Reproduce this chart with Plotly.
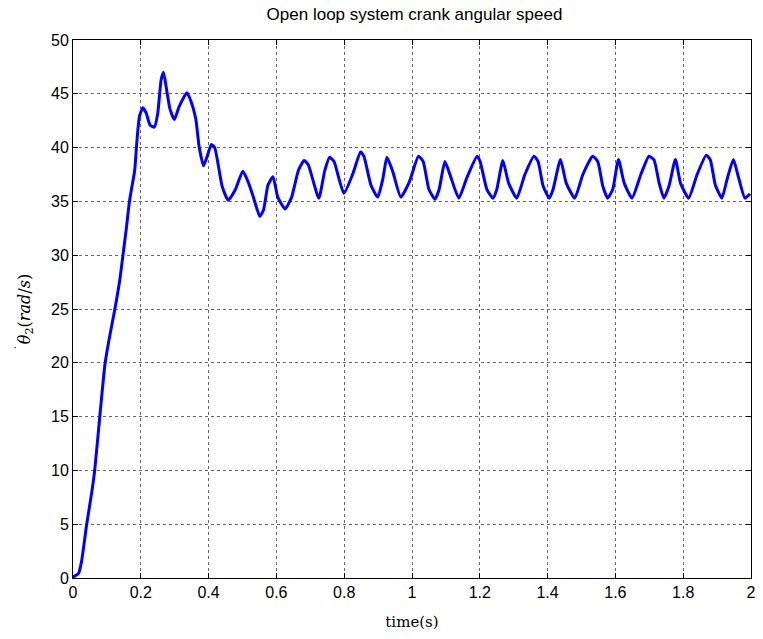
import plotly.graph_objects as go

time_s = [0.0, 0.001, 0.016, 0.025, 0.040, 0.055, 0.064, 0.079, 0.094, 0.106, 0.123, 0.138, 0.147,
          0.157, 0.167, 0.182, 0.188, 0.196, 0.206, 0.216, 0.227, 0.240, 0.250, 0.260, 0.267,
          0.276, 0.286, 0.299, 0.313, 0.336, 0.347, 0.362, 0.372, 0.385, 0.396, 0.408, 0.418,
          0.440, 0.458, 0.479, 0.501, 0.518, 0.533, 0.551, 0.562, 0.575, 0.590, 0.604, 0.626,
          0.645, 0.665, 0.682, 0.694, 0.725, 0.743, 0.757, 0.770, 0.799, 0.826, 0.848, 0.858,
          0.879, 0.899, 0.914, 0.926, 0.943, 0.967, 0.992, 1.019, 1.033, 1.050, 1.068, 1.080,
          1.097, 1.114, 1.138, 1.163, 1.192, 1.201, 1.221, 1.239, 1.250, 1.268, 1.285, 1.309,
          1.333, 1.360, 1.372, 1.387, 1.405, 1.416, 1.438, 1.455, 1.480, 1.504, 1.533, 1.548,
          1.563, 1.577, 1.592, 1.609, 1.626, 1.649, 1.675, 1.699, 1.714, 1.729, 1.743, 1.758,
          1.777, 1.792, 1.816, 1.841, 1.868, 1.880, 1.895, 1.914, 1.929, 1.948, 1.961, 1.982,
          1.997]
speed = [0.0, 0.1, 0.4, 1.5, 4.9, 7.9, 10.0, 15.0, 19.8, 22.1, 24.9, 27.7, 29.9,
         32.4, 35.1, 37.9, 40.4, 42.9, 43.7, 43.2, 42.1, 41.9, 43.2, 46.3, 47.0,
         45.4, 43.6, 42.6, 43.8, 45.1, 44.4, 42.7, 40.1, 38.3, 39.2, 40.3, 40.0,
         36.4, 35.1, 36.1, 37.8, 36.7, 35.3, 33.6, 34.2, 36.5, 37.3, 35.4, 34.3,
         35.4, 37.9, 38.8, 38.4, 35.3, 37.9, 39.1, 38.7, 35.75, 37.6, 39.6, 39.2,
         36.5, 35.4, 37.1, 39.1, 37.8, 35.4, 36.8, 39.2, 38.7, 36.1, 35.2, 36.1,
         38.7, 37.3, 35.3, 37.3, 39.2, 38.7, 36.1, 35.3, 36.1, 38.8, 36.7, 35.3,
         37.5, 39.2, 38.7, 36.4, 35.3, 36.1, 38.9, 36.7, 35.3, 37.5, 39.2, 38.7,
         36.4, 35.3, 36.1, 38.9, 36.7, 35.3, 37.5, 39.2, 38.85, 36.7, 35.3, 36.4,
         38.9, 36.7, 35.3, 37.5, 39.3, 38.85, 36.5, 35.3, 37.0, 38.9, 37.5, 35.3,
         35.7]

x_ticks = [0, 0.2, 0.4, 0.6, 0.8, 1, 1.2, 1.4, 1.6, 1.8, 2]
x_tick_labels = ["0", "0.2", "0.4", "0.6", "0.8", "1", "1.2", "1.4", "1.6", "1.8", "2"]
y_ticks = [0, 5, 10, 15, 20, 25, 30, 35, 40, 45, 50]

fig = go.Figure()
fig.add_trace(go.Scatter(
    x=time_s, y=speed, mode="lines",
    line=dict(color="#0000FF", width=3, shape="spline", smoothing=0.5),
    showlegend=False,
))

axis_common = dict(
    showline=True, linecolor="black", linewidth=1, mirror="ticks",
    ticks="inside", ticklen=5, tickcolor="black", tickwidth=1,
    showgrid=True, gridcolor="#666666", griddash="dot", gridwidth=1,
    zeroline=False,
    tickfont=dict(family="Liberation Sans, Arial, sans-serif", size=16, color="black"),
)

L, R, T, B = 73, 756, 40, 578
fig.update_layout(
    width=763, height=639,
    margin=dict(l=L, r=763 - R, t=T, b=639 - B),
    paper_bgcolor="white", plot_bgcolor="white",
    title=dict(
        text="Open loop system crank angular speed",
        x=(L + R) / 2 / 763, xanchor="center", y=1 - 14 / 639, yanchor="middle",
        font=dict(family="Liberation Sans, Arial, sans-serif", size=17, color="black"),
    ),
    xaxis=dict(
        range=[0, 2], tickvals=x_ticks, ticktext=x_tick_labels,
        title=dict(text="time(s)", standoff=16,
                   font=dict(family="DejaVu Serif, Liberation Serif, serif", size=15, color="black")),
        **axis_common,
    ),
    yaxis=dict(
        range=[0, 50], tickvals=y_ticks,
        title=dict(text="<i>θ</i><sub>2</sub>(<i>rad</i>/<i>s</i>)", standoff=16,
                   font=dict(family="DejaVu Serif, Liberation Serif, serif", size=16, color="black")),
        **axis_common,
    ),
)

# the dot of the time-derivative accent over theta
fig.add_annotation(
    text="•", xref="paper", yref="paper",
    x=(15 - L) / (R - L), y=(B - 348) / (B - T),
    xanchor="center", yanchor="middle", showarrow=False,
    font=dict(size=6, color="black"),
)

fig.write_html("out.html")
